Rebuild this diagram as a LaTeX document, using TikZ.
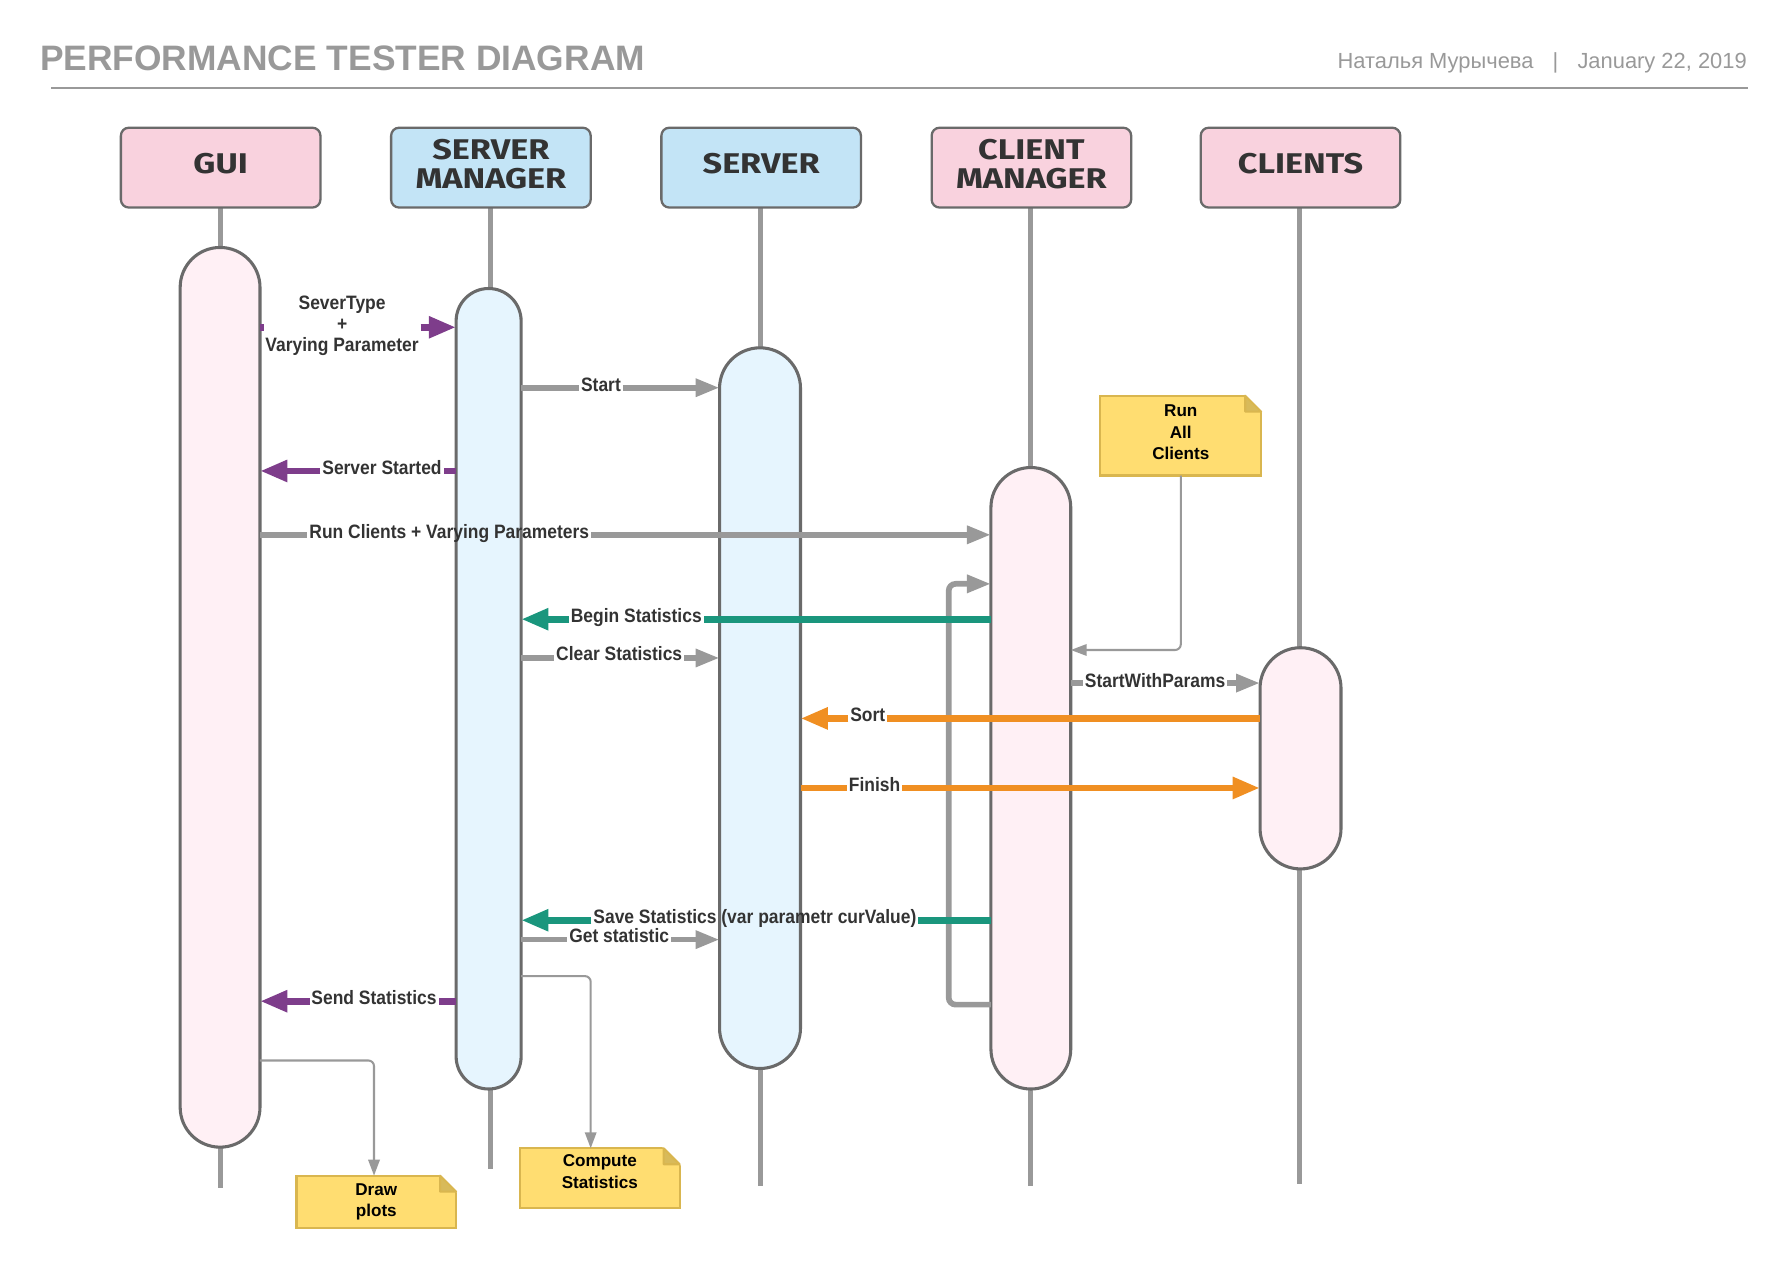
\documentclass[tikz,border=0pt]{standalone}
\usepackage{fontspec}
\setmainfont{Liberation Sans}
\newfontfamily\lblfont{Liberation Sans}[FakeStretch=0.9]
\newfontfamily\hdrfont{Fira Sans}[FakeStretch=1.2]
\usetikzlibrary{arrows.meta,calc,backgrounds}
\definecolor{ttl}{HTML}{999999}
\definecolor{lgray}{HTML}{999999}
\definecolor{bord}{HTML}{6A6A6A}
\definecolor{hpink}{HTML}{F9D2DE}
\definecolor{hblue}{HTML}{C3E4F6}
\definecolor{apink}{HTML}{FFF0F5}
\definecolor{ablue}{HTML}{E6F5FE}
\definecolor{purp}{HTML}{7E3D8B}
\definecolor{teal2}{HTML}{1A967D}
\definecolor{orng}{HTML}{F08F22}
\definecolor{notef}{HTML}{FFDD71}
\definecolor{noteb}{HTML}{D9B64F}
\definecolor{notefold}{HTML}{D8BA5A}
\definecolor{txt}{HTML}{333333}
\tikzset{
 hdrbox/.style={draw=bord, line width=2pt, rounded corners=7pt, minimum width=175pt, minimum height=70pt, inner sep=0pt, outer sep=0pt, align=center, text=txt, font=\hdrfont\bfseries\fontsize{25}{25}\selectfont, text depth=7pt},
 actbar/.style={draw=bord, line width=2.7pt, inner sep=0pt, outer sep=0pt},
 lifeline/.style={draw=lgray, line width=4.4pt},
 lbl/.style={font=\lblfont\bfseries\fontsize{17}{18.5}\selectfont, text=txt, inner xsep=1.5pt, inner ysep=0pt, text height=12.5pt, text depth=3.5pt},
 lblm/.style={font=\lblfont\bfseries\fontsize{17}{18.5}\selectfont, text=txt, inner xsep=1.5pt, inner ysep=0pt, align=center},
 pmsg/.style={draw=purp, line width=6pt},
 tmsg/.style={draw=teal2, line width=6pt},
 omsg/.style={draw=orng, line width=6pt},
 gmsg/.style={draw=lgray, line width=5pt},
 bighead/.style={-{Triangle[length=24pt,width=18pt]}},
 ghead/.style={-{Triangle[length=21pt,width=15pt]}},
 thinlink/.style={draw=lgray, line width=1.8pt, rounded corners=5pt, -{Triangle[length=14pt,width=10pt]}},
 notebox/.style={draw=noteb, fill=notef, line width=1.8pt, inner sep=0pt, outer sep=0pt, align=center, font=\bfseries\fontsize{15}{19}\selectfont, text=black},
 hdrtext/.style={inner sep=0pt, text=ttl},
}
\newcommand\mynotefold[1]{%
 \fill[white] ($(#1.north east)+(-15.5,-1.5)$) -- ($(#1.north east)+(1.5,-1.5)$) -- ($(#1.north east)+(1.5,15.5)$) -- cycle;
 \filldraw[fill=notefold, draw=noteb, line width=1.8pt, line join=round] ($(#1.north east)+(-14,0)$) -- ($(#1.north east)+(-14,14)$) -- ($(#1.north east)+(0,14)$) -- cycle;}
\begin{document}
\begin{tikzpicture}[x=1pt,y=-1pt]
\path[use as bounding box] (0,0) rectangle (1568,1112);
% header
\node[hdrtext, anchor=base west, font=\bfseries\fontsize{31}{31}\selectfont] (title) at (35,62) {PERFORMANCE TESTER DIAGRAM};
\node[hdrtext, anchor=base east, font=\fontsize{19.2}{19.2}\selectfont] (author) at (1345,60) {Наталья Мурычева};
\node[hdrtext, anchor=base, font=\fontsize{19.2}{19.2}\selectfont] (sep) at (1364,60) {|};
\node[hdrtext, anchor=base east, font=\fontsize{19.2}{19.2}\selectfont] (date) at (1532,60) {January 22, 2019};
\coordinate (ruleL) at (45,77);
\coordinate (ruleR) at (1533,77);
\draw[draw=lgray, line width=1.8pt] (ruleL) -- (ruleR);
% participants
\node[hdrbox, fill=hpink] (gui) at (193.5,147) {GUI};
\node[hdrbox, fill=hblue] (smgr) at (430.5,147) {SERVER\\MANAGER};
\node[hdrbox, fill=hblue] (srv) at (667.5,147) {SERVER};
\node[hdrbox, fill=hpink] (cmgr) at (904.5,147) {CLIENT\\MANAGER};
\node[hdrbox, fill=hpink] (cls) at (1140.5,147) {CLIENTS};
% activation bars
\node[actbar, fill=apink, minimum width=70pt, minimum height=789pt, rounded corners=35pt] (guib) at (193,611.5) {};
\node[actbar, fill=ablue, minimum width=57pt, minimum height=702pt, rounded corners=28.5pt] (smb) at (428.5,604) {};
\node[actbar, fill=ablue, minimum width=71pt, minimum height=632pt, rounded corners=35.5pt] (srvb) at (666.5,621) {};
\node[actbar, fill=apink, minimum width=70pt, minimum height=545pt, rounded corners=35pt] (cmb) at (904,682.5) {};
\node[actbar, fill=apink, minimum width=71pt, minimum height=194pt, rounded corners=35.5pt] (clsb) at (1140.5,665) {};
% lifelines
\coordinate (guiend) at (193,1042);
\coordinate (smend) at (430,1025);
\coordinate (srvend) at (667,1040);
\coordinate (cmend) at (904,1040);
\coordinate (clsend) at (1140,1038);
\begin{pgfonlayer}{background}
\draw[lifeline] (guiend |- gui.south) -- (guiend |- guib.north);
\draw[lifeline] (guiend |- guib.south) -- (guiend);
\draw[lifeline] (smend |- smgr.south) -- (smend |- smb.north);
\draw[lifeline] (smend |- smb.south) -- (smend);
\draw[lifeline] (srvend |- srv.south) -- (srvend |- srvb.north);
\draw[lifeline] (srvend |- srvb.south) -- (srvend);
\draw[lifeline] (cmend |- cmgr.south) -- (cmend |- cmb.north);
\draw[lifeline] (cmend |- cmb.south) -- (cmend);
\draw[lifeline] (clsend |- cls.south) -- (clsend |- clsb.north);
\draw[lifeline] (clsend |- clsb.south) -- (clsend);
\end{pgfonlayer}
% loop on client manager
\draw[gmsg,ghead,rounded corners=6pt] (cmb.west |- 0,881) -- (832,881) -- (832,512) -- (cmb.west |- 0,512);
% messages
\node[lblm] (m1) at (300,286) {SeverType\\+\\Varying Parameter};
\draw[pmsg] (guib.east |- 0,287) -- (m1.west |- 0,287);
\draw[pmsg,bighead] (m1.east |- 0,287) -- (smb.west |- 0,287);
\node[lbl] (m2) at (527,339) {Start};
\draw[gmsg] (smb.east |- 0,340) -- (m2.west |- 0,340);
\draw[gmsg,ghead] (m2.east |- 0,340) -- (srvb.west |- 0,340);
\node[lbl] (m3) at (335,412) {Server Started};
\draw[pmsg] (smb.west |- 0,413) -- (m3.east |- 0,413);
\draw[pmsg,bighead] (m3.west |- 0,413) -- (guib.east |- 0,413);
\node[lbl] (m4) at (394,468) {Run Clients + Varying Parameters};
\draw[gmsg] (guib.east |- 0,469) -- (m4.west |- 0,469);
\draw[gmsg,ghead] (m4.east |- 0,469) -- (cmb.west |- 0,469);
\node[lbl] (m5) at (558,541) {Begin Statistics};
\draw[tmsg] (cmb.west |- 0,543) -- (m5.east |- 0,543);
\draw[tmsg,bighead] (m5.west |- 0,543) -- (smb.east |- 0,543);
\node[lbl] (m6) at (543,575) {Clear Statistics};
\draw[gmsg] (smb.east |- 0,577) -- (m6.west |- 0,577);
\draw[gmsg,ghead] (m6.east |- 0,577) -- (srvb.west |- 0,577);
\node[lbl] (m9) at (1013,598) {StartWithParams};
\draw[gmsg] (cmb.east |- 0,599) -- (m9.west |- 0,599);
\draw[gmsg,ghead] (m9.east |- 0,599) -- (clsb.west |- 0,599);
\node[lbl] (m10) at (761,628) {Sort};
\draw[omsg] (clsb.west |- 0,630) -- (m10.east |- 0,630);
\draw[omsg,bighead] (m10.west |- 0,630) -- (srvb.east |- 0,630);
\node[lbl] (m11) at (767,690) {Finish};
\draw[omsg] (srvb.east |- 0,691) -- (m11.west |- 0,691);
\draw[omsg,bighead] (m11.east |- 0,691) -- (clsb.west |- 0,691);
\node[lbl] (m12) at (662,805) {Save Statistics (var parametr curValue)};
\draw[tmsg] (cmb.west |- 0,807) -- (m12.east |- 0,807);
\draw[tmsg,bighead] (m12.west |- 0,807) -- (smb.east |- 0,807);
\node[lbl] (m13) at (543,822) {Get statistic};
\draw[gmsg] (smb.east |- 0,824) -- (m13.west |- 0,824);
\draw[gmsg,ghead] (m13.east |- 0,824) -- (srvb.west |- 0,824);
\node[lbl] (m14) at (328,876) {Send Statistics};
\draw[pmsg] (smb.west |- 0,878) -- (m14.east |- 0,878);
\draw[pmsg,bighead] (m14.west |- 0,878) -- (guib.east |- 0,878);
% notes
\node[notebox, minimum width=141pt, minimum height=70pt, text depth=6pt] (n1) at (1035.5,382) {Run\\All\\Clients};
\mynotefold{n1}
\node[notebox, minimum width=140pt, minimum height=52pt, text depth=11pt] (n2) at (526,1033) {Compute\\Statistics};
\mynotefold{n2}
\node[notebox, minimum width=140pt, minimum height=46pt] (n3) at (330,1054) {Draw\\plots};
\mynotefold{n3}
\draw[thinlink] (n1.south) -- (n1.south |- 0,570) -- (cmb.east |- 0,570);
\draw[thinlink] (smb.east |- 0,856) -- (518,856) -- (n2.north -| 518,0);
\draw[thinlink] (guib.east |- 0,930) -- (328,930) -- (n3.north -| 328,0);
\end{tikzpicture}
\end{document}
